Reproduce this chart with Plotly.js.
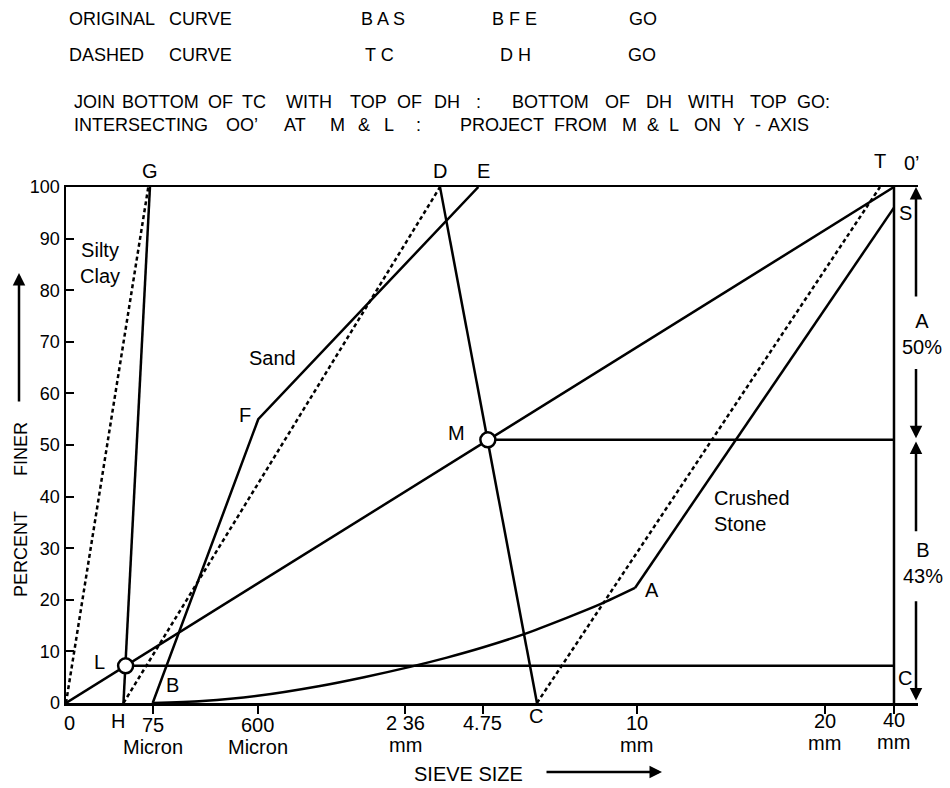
<!DOCTYPE html>
<html>
<head>
<meta charset="utf-8">
<script src="https://cdn.plot.ly/plotly-3.0.1.min.js"></script>
<style>html,body{margin:0;padding:0;background:#fff;}#chart{width:950px;height:788px;}</style>
</head>
<body>
<div id="chart"></div>
<script>
// ---- Data (x = position along the Rothfutch sieve-size scale, 0..100; y = percent finer) ----
const tickPositions = [10.47, 23.15, 40.98, 50.33, 68.93, 91.63, 100];
const tickLabels = ['75', '600', '2 36', '4.75', '10', '20', '40'];
const tickUnits = ['Micron', 'Micron', 'mm', '', 'mm', 'mm', 'mm'];
const yTickVals = [0, 10, 20, 30, 40, 50, 60, 70, 80, 90, 100];

// diagonal O-O'
const diagX = [0, 100];
const diagY = [0, 100];
// Silty clay: original (solid H-G) and dashed (O-G)
const siltX = [6.94, 10.14];
const siltY = [0, 100];
const siltDashX = [0, 9.94];
const siltDashY = [0, 100];
// Sand: original B-F-E and dashed H-D
const sandX = [10.47, 23.22, 49.80];
const sandY = [0, 55, 100];
const sandDashX = [6.94, 45.17];
const sandDashY = [0, 100];
// Join D with C
const joinDCX = [45.17, 56.88];
const joinDCY = [100, 0];
// Crushed stone: original B-A (curve) then A-S, dashed C-T
const stoneCurveX = [10.47, 16.5, 23.15, 30.68, 36.0, 41.55, 46.0, 50.40, 55.23, 60.47, 64.60, 68.72];
const stoneCurveY = [0, 0.4, 1.4, 3.3, 5.0, 7.0, 8.8, 10.8, 13.3, 16.5, 19.2, 22.3];
const stoneLineX = [68.72, 100];
const stoneLineY = [22.3, 96];
const stoneDashX = [56.88, 98.31];
const stoneDashY = [0, 100];
// 40 mm vertical
const verticalX = [100, 100];
const verticalY = [0, 100];
// Intersections M and L and their projections
const pointX = [50.95, 7.2];
const pointY = [51.0, 7.2];
const projM_X = [50.95, 100];
const projM_Y = [51.0, 51.0];
const projL_X = [7.2, 100];
const projL_Y = [7.2, 7.2];
// Proportions
const shareA = 50, shareB = 43;

const FONT = 'Liberation Sans, Arial, Helvetica, sans-serif';
const LW = 2.5;
const DASH = '4px,3px';
const XMAX = 102.9;

function line(x, y, dash, extra) {
  return Object.assign({
    x: x, y: y, type: 'scatter', mode: 'lines', cliponaxis: false,
    hoverinfo: 'skip', showlegend: false,
    line: {color: '#000', width: LW, dash: dash || 'solid'}
  }, extra || {});
}

const traces = [
  line(diagX, diagY),
  line(siltX, siltY),
  line(siltDashX, siltDashY, DASH),
  line(sandX, sandY),
  line(sandDashX, sandDashY, DASH),
  line(joinDCX, joinDCY),
  line(stoneCurveX, stoneCurveY, null, {line: {color: '#000', width: LW, shape: 'spline', smoothing: 0.8}}),
  line(stoneLineX, stoneLineY),
  line(stoneDashX, stoneDashY, DASH),
  line(verticalX, verticalY),
  line(projM_X, projM_Y),
  line(projL_X, projL_Y),
  {x: pointX, y: pointY, type: 'scatter', mode: 'markers', cliponaxis: false, showlegend: false, hoverinfo: 'skip',
   marker: {size: 15, color: '#fff', line: {color: '#000', width: LW}}}
];

// pixel -> paper helpers for the layout (plot area 66..918 x 187..703)
const PL = 66, PR = 918, PT = 187, PB = 703;
const px = v => (v - PL) / (PR - PL);
const py = v => (PB - v) / (PB - PT);
const dx = v => v / XMAX;   // data x -> paper

function txt(text, x, y, size, opts) {
  return Object.assign({text: text, x: x, y: y, xref: 'x', yref: 'y', showarrow: false,
    font: {family: FONT, size: size || 20, color: '#000'}, xanchor: 'center', yanchor: 'middle'}, opts || {});
}
function ptxt(text, xpaper, ypx, size, anchor) {
  return {text: text, x: xpaper, y: py(ypx), xref: 'paper', yref: 'paper', showarrow: false,
    font: {family: FONT, size: size || 18, color: '#000'}, xanchor: anchor || 'left', yanchor: 'middle'};
}
function arrow(x, y, ax, ay) {
  return {x: x, y: y, ax: ax, ay: ay, xref: 'x', yref: 'y', axref: 'x', ayref: 'y', text: '',
    showarrow: true, arrowhead: 2, arrowsize: 1, arrowwidth: LW, arrowcolor: '#000', standoff: 0, startstandoff: 0};
}

const annotations = [];
// header lines 1-2
[['ORIGINAL', 67, 'left'], ['CURVE', 167, 'left'], ['B A S', 383, 'center'], ['B F E', 514, 'center'], ['GO', 643, 'center']]
  .forEach(w => annotations.push(ptxt(w[0], px(w[1]), 19, 18, w[2])));
[['DASHED', 67, 'left'], ['CURVE', 167, 'left'], ['T C', 379, 'center'], ['D H', 515, 'center'], ['GO', 642, 'center']]
  .forEach(w => annotations.push(ptxt(w[0], px(w[1]), 55, 18, w[2])));
// header lines 3-4, word by word
[['JOIN', 72], ['BOTTOM', 120], ['OF', 206], ['TC', 240], ['WITH', 284], ['TOP', 348], ['OF', 395], ['DH', 432], [':', 474],
 ['BOTTOM', 510], ['OF', 603], ['DH', 644], ['WITH', 686], ['TOP', 748], ['GO:', 795]]
  .forEach(w => annotations.push(ptxt(w[0], px(w[1]), 102, 18)));
[['INTERSECTING', 72], ['OO’', 224], ['AT', 282], ['M', 328], ['&amp;', 356], ['L', 382], [':', 414],
 ['PROJECT', 458], ['FROM', 552], ['M', 620], ['&amp;', 645], ['L', 667], ['ON', 692], ['Y', 731], ['-', 753], ['AXIS', 766]]
  .forEach(w => annotations.push(ptxt(w[0], px(w[1]), 125, 18)));

// letters above the frame
annotations.push(ptxt('G', dx(siltX[1]), 171, 20, 'center'));
annotations.push(ptxt('D', dx(sandDashX[1]), 171, 20, 'center'));
annotations.push(ptxt('E', px(483), 171, 20, 'center'));
annotations.push(ptxt('T', px(880), 161, 20, 'center'));
annotations.push(ptxt('0’', px(912), 163, 20, 'center'));

// x tick labels (numbers and units)
const numY = [725, 725, 723, 723, 723, 721, 720];
const unitY = [747, 747, 745, 745, 745, 743, 742];
tickPositions.forEach((p, i) => {
  annotations.push(ptxt(tickLabels[i], dx(p), numY[i], 20, 'center'));
  if (tickUnits[i]) annotations.push(ptxt(tickUnits[i], dx(p), unitY[i], 20, 'center'));
});
annotations.push(ptxt('0', px(69), 723, 20, 'center'));
annotations.push(ptxt('H', px(118), 721, 20, 'center'));
annotations.push(ptxt('C', px(536), 716, 20, 'center'));

// in-plot labels
annotations.push(
  txt('Silty<br>Clay', 4.1, 85.3), txt('Sand', 24.9, 66.9), txt('F', 21.6, 55.8),
  txt('M', 47.2, 52.3), txt('L', 4.0, 7.9), txt('B', 12.9, 3.5), txt('A', 70.8, 21.9),
  txt('Crushed<br>Stone', 78.0, 37.2, 20, {xanchor: 'left', align: 'left'}),
  txt('S', 101.4, 95.0), txt('C', 101.3, 4.8)
);

// right side proportions
annotations.push(ptxt('A<br>' + shareA + '%', px(922), 334, 20, 'center'));
annotations.push(ptxt('B<br>' + shareB + '%', px(923), 563, 20, 'center'));
annotations.push(
  arrow(102.66, 100, 102.66, 78.5), arrow(102.66, pointY[0] + 0.3, 102.66, 65.0),
  arrow(102.66, pointY[0] - 0.3, 102.66, 33.0), arrow(102.66, 0.5, 102.66, 20.0)
);

// axis titles
annotations.push({text: 'PERCENT\u00A0\u00A0\u00A0\u00A0\u00A0\u00A0\u00A0FINER', x: px(21), y: py(510), xref: 'paper', yref: 'paper',
  showarrow: false, textangle: -90, font: {family: FONT, size: 18, color: '#000'}, xanchor: 'center', yanchor: 'middle'});
annotations.push({x: px(19), y: py(273), ax: px(19), ay: py(403), xref: 'paper', yref: 'paper', axref: 'paper', ayref: 'paper',
  text: '', showarrow: true, arrowhead: 2, arrowsize: 1, arrowwidth: LW, arrowcolor: '#000', standoff: 0});
annotations.push(ptxt('SIEVE SIZE', px(468), 774, 20, 'center'));
annotations.push({x: px(662), y: py(772), ax: px(545), ay: py(772), xref: 'paper', yref: 'paper', axref: 'paper', ayref: 'paper',
  text: '', showarrow: true, arrowhead: 2, arrowsize: 1, arrowwidth: LW, arrowcolor: '#000', standoff: 0});

const layout = {
  width: 950, height: 788,
  margin: {l: PL, r: 950 - PR, t: PT, b: 788 - PB, pad: 0},
  paper_bgcolor: '#fff', plot_bgcolor: '#fff',
  showlegend: false,
  font: {family: FONT, color: '#000'},
  xaxis: {
    range: [0, XMAX], showgrid: false, zeroline: false,
    showline: true, linecolor: '#000', linewidth: LW, mirror: true,
    ticks: 'outside', ticklen: 8, tickwidth: 2, tickcolor: '#000',
    tickmode: 'array', tickvals: tickPositions, showticklabels: false, fixedrange: true
  },
  yaxis: {
    range: [0, 100], showgrid: false, zeroline: false,
    showline: true, linecolor: '#000', linewidth: LW,
    ticks: 'inside', ticklen: 8, tickwidth: 2, tickcolor: '#000',
    tickmode: 'array', tickvals: yTickVals,
    tickfont: {family: FONT, size: 18, color: '#000'}, fixedrange: true
  },
  annotations: annotations
};

Plotly.newPlot('chart', traces, layout, {staticPlot: true, displayModeBar: false});
</script>
</body>
</html>
